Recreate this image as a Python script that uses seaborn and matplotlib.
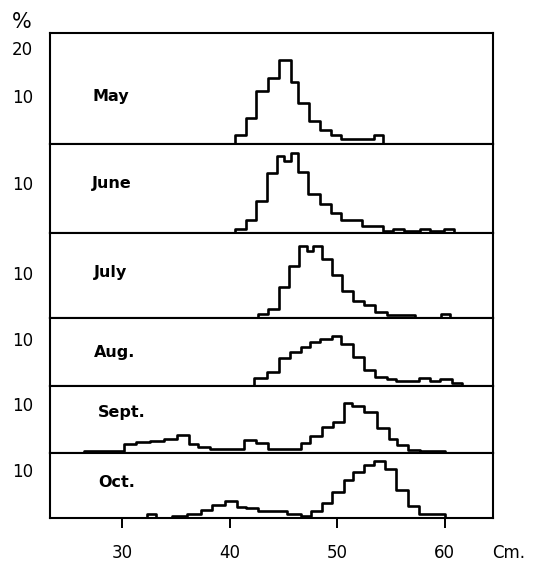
import numpy as np
import pandas as pd
import matplotlib.pyplot as plt
import seaborn as sns

# length-frequency histograms by month (bin edges in cm, % per bin)
months = ["May", "June", "July", "Aug.", "Sept.", "Oct."]

may_edges = [40.5, 41.5, 42.5, 43.6, 44.6, 45.7, 46.4, 47.4, 48.4, 49.4, 50.4, 53.4, 54.3]
may_pct = [1.9, 5.5, 11.0, 13.8, 17.5, 13.0, 8.5, 4.7, 2.9, 1.9, 1.0, 1.9]

june_edges = [40.5, 41.5, 42.5, 43.5, 44.4, 45.1, 45.7, 46.4, 47.3, 48.4, 49.4, 50.4,
              52.3, 54.3, 55.2, 56.2, 57.7, 58.6, 59.9, 60.9]
june_pct = [0.9, 2.6, 6.4, 12.0, 15.4, 14.5, 16.0, 12.2, 7.8, 5.9, 4.1, 2.6,
            1.4, 0.5, 0.9, 0.5, 0.9, 0.5, 0.9]

july_edges = [42.6, 43.6, 44.6, 45.5, 46.5, 47.2, 47.8, 48.6, 49.5, 50.5, 51.5, 52.5,
              53.5, 54.6, 57.2, 59.7, 60.5]
july_pct = [0.9, 1.9, 6.8, 11.6, 15.9, 15.0, 15.9, 13.1, 9.6, 5.9, 3.7, 3.0,
            1.3, 0.7, 0.0, 0.9]

aug_edges = [42.3, 43.5, 44.6, 45.6, 46.6, 47.5, 48.4, 49.5, 50.4, 51.5, 52.5, 53.5,
             54.6, 55.5, 57.6, 58.6, 59.6, 60.7, 61.6]
aug_pct = [1.6, 3.0, 6.0, 7.3, 8.4, 9.3, 10.1, 10.7, 8.9, 6.1, 3.4, 2.0,
           1.4, 1.1, 1.6, 1.1, 1.4, 0.7]

sept_edges = [26.5, 30.2, 31.3, 32.6, 33.9, 35.1, 36.2, 37.1, 38.2, 41.3, 42.5, 43.6,
              46.6, 47.5, 48.6, 49.6, 50.6, 51.4, 52.5, 53.7, 54.8, 55.6, 56.6, 57.7, 60.0]
sept_pct = [0.4, 1.9, 2.2, 2.5, 2.9, 3.6, 1.8, 1.3, 0.8, 2.6, 2.0, 0.8,
            2.1, 3.5, 5.4, 6.3, 10.3, 9.6, 8.3, 5.2, 2.8, 1.7, 0.6, 0.4]

oct_edges = [32.3, 33.2, 34.6, 36.0, 37.3, 38.4, 39.6, 40.7, 41.5, 42.6, 45.3, 46.6,
             47.6, 48.6, 49.5, 50.6, 51.5, 52.5, 53.4, 54.5, 55.5, 56.6, 57.6, 60.0]
oct_pct = [0.8, 0.0, 0.4, 0.8, 1.7, 2.7, 3.5, 2.2, 2.0, 1.4, 0.9, 0.4,
           1.5, 3.1, 5.4, 7.8, 9.6, 11.0, 11.8, 10.2, 5.9, 2.5, 0.9]

all_edges = [may_edges, june_edges, july_edges, aug_edges, sept_edges, oct_edges]
all_pct = [may_pct, june_pct, july_pct, aug_pct, sept_pct, oct_pct]

panel_top = [23.1, 17.8, 18.9, 14.5, 13.7, 13.5]
x_ticks = [30, 40, 50, 60]

sns.set_theme(style="white")
plt.rcParams["font.family"] = ["DejaVu Sans"]
plt.rcParams["text.color"] = "black"
plt.rcParams["xtick.color"] = "black"
plt.rcParams["ytick.color"] = "black"

fig, axes = plt.subplots(6, 1, figsize=(5.39, 5.64), dpi=100, sharex=True,
                         gridspec_kw=dict(height_ratios=[111, 89, 85, 68, 67, 65], hspace=0))
fig.subplots_adjust(left=50/539, right=493/539, top=1-33/564, bottom=1-518/564)

label_pos = [(0.095, 0.43), (0.095, 0.56), (0.099, 0.54), (0.099, 0.49), (0.108, 0.60), (0.108, 0.55)]

for ax, name, edges, pct, top, (lx, ly) in zip(axes, months, all_edges, all_pct, panel_top, label_pos):
    df = pd.DataFrame({"cm": [(a + b) / 2 for a, b in zip(edges[:-1], edges[1:])], "pct": pct})
    # pad with empty bins so the outline drops to the baseline at both ends
    bins = [edges[0] - 1] + list(edges) + [edges[-1] + 1]
    sns.histplot(data=df, x="cm", weights="pct", bins=bins, element="step", fill=False,
                 color="black", linewidth=1.9, ax=ax)
    ax.set_ylim(0, top)
    ax.set_xlim(23.3, 64.5)
    ax.set_ylabel("")
    ax.set_xlabel("")
    ax.set_yticks([10, 20] if name == "May" else [10])
    ax.tick_params(axis="y", direction="in", length=6, width=1.4, pad=12, labelsize=12)
    ax.tick_params(axis="x", bottom=False, labelbottom=False)
    for s in ax.spines.values():
        s.set_linewidth(1.5)
        s.set_color("black")
    ax.text(lx, ly, name, transform=ax.transAxes, fontsize=11.5, fontweight="bold",
            ha="left", va="center")

bottom = axes[-1]
bottom.set_xticks(x_ticks)
bottom.tick_params(axis="x", bottom=True, labelbottom=True, direction="out",
                   length=7, width=1.4, pad=12, labelsize=12)
bottom.text(1.035, -0.54, "Cm.", transform=bottom.transAxes, fontsize=12,
            ha="center", va="center")
fig.text(22/539, 1-22/564, "%", fontsize=15, ha="center", va="center")

fig.savefig("out.png", dpi=100)
